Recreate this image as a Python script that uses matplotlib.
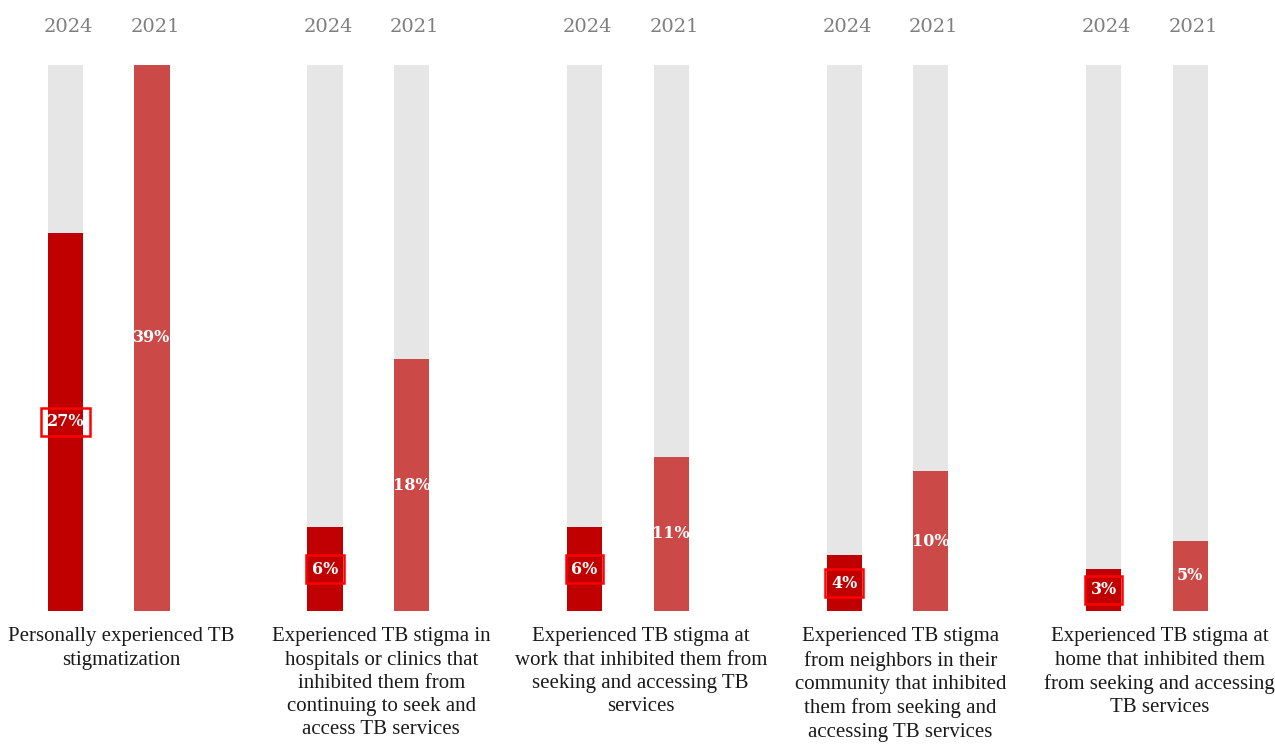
import numpy as np
import matplotlib.pyplot as plt

plt.rcParams["font.family"] = ["Liberation Serif", "DejaVu Serif"]

# survey results, percent of respondents
categories = [
    "Personally experienced TB\nstigmatization",
    "Experienced TB stigma in\nhospitals or clinics that\ninhibited them from\ncontinuing to seek and\naccess TB services",
    "Experienced TB stigma at\nwork that inhibited them from\nseeking and accessing TB\nservices",
    "Experienced TB stigma\nfrom neighbors in their\ncommunity that inhibited\nthem from seeking and\naccessing TB services",
    "Experienced TB stigma at\nhome that inhibited them\nfrom seeking and accessing\nTB services",
]
years = ["2024", "2021"]
values_2024 = [27, 6, 6, 4, 3]
values_2021 = [39, 18, 11, 10, 5]
scale_max = 39

col_2024 = "#C00000"
col_2021 = "#CB4A48"
col_bg = "#E7E6E6"

fig = plt.figure(figsize=(12.75, 7.46), dpi=100)
ax = fig.add_axes([0, 135 / 746, 1, 546 / 746])

x = np.arange(len(categories))
off = 0.1667
w = 0.135

# grey track behind every bar
ax.bar(x - off, scale_max, w, color=col_bg, zorder=1)
ax.bar(x + off, scale_max, w, color=col_bg, zorder=1)
ax.bar(x - off, values_2024, w, color=col_2024, zorder=2)
ax.bar(x + off, values_2021, w, color=col_2021, zorder=2)

lab_font = dict(family="DejaVu Serif", fontsize=11.5, fontweight="bold", color="white")
for xi, v in zip(x, values_2024):
    ax.text(xi - off, v / 2, "%d%%" % v, ha="center", va="center", zorder=3,
            bbox=dict(boxstyle="square,pad=0.35", fc="none", ec="#FF0000", lw=1.8),
            **lab_font)
for xi, v in zip(x, values_2021):
    ax.text(xi + off, v / 2, "%d%%" % v, ha="center", va="center", zorder=3, **lab_font)

tr = ax.get_xaxis_transform()
for xi in x:
    for dx, yr in zip((-off, off), years):
        ax.text(xi + dx + 0.012, 1.07, yr, transform=tr, ha="center", va="center",
                family="DejaVu Serif", color="#7F7F7F", fontsize=14)

for xi, lab in zip(x, categories):
    ax.text(xi + 0.05, -0.03, lab, transform=tr, ha="center", va="top",
            multialignment="center", fontsize=15, color="#1A1A1A", linespacing=1.3)

ax.set_xlim(-0.419, 4.494)
ax.set_ylim(0, scale_max)
ax.axis("off")

fig.savefig("out.png", dpi=100)
